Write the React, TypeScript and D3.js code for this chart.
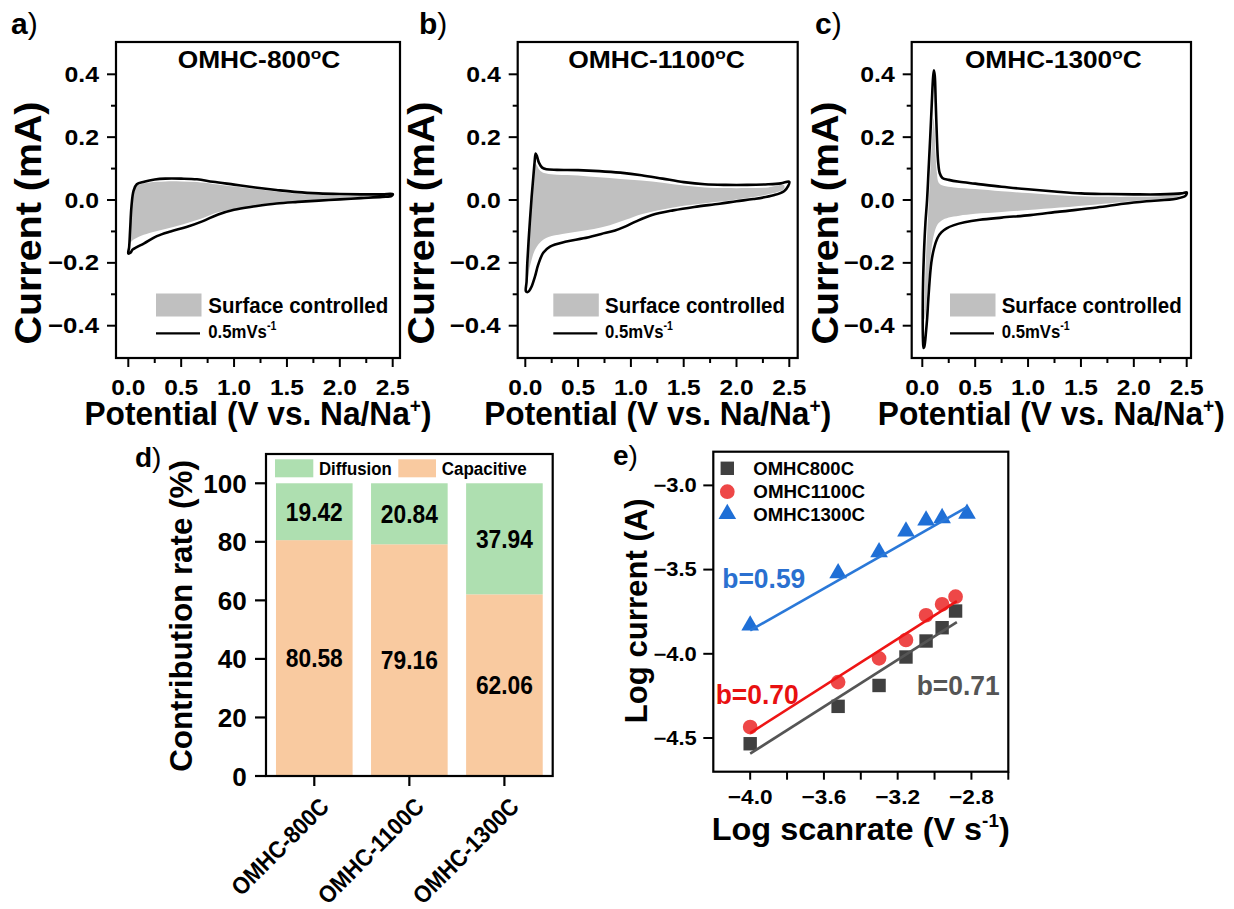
import React from "react";
import * as d3 from "d3";

type P = [number, number];

const FONT = "'Liberation Sans', Arial, Helvetica, sans-serif";

// ---------------- CV data: [potential (V), current (mA)] ----------------
const cv800Measured: P[] = [
  [0.0, -0.17], [0.008, -0.15], [0.018, -0.09], [0.03, -0.02], [0.05, 0.03], [0.08, 0.05], [0.15, 0.058],
  [0.25, 0.065], [0.35, 0.068], [0.5, 0.068], [0.65, 0.066], [0.8, 0.058], [1.0, 0.049], [1.2, 0.04],
  [1.4, 0.032], [1.6, 0.025], [1.8, 0.021], [2.0, 0.019], [2.2, 0.018], [2.4, 0.018], [2.5, 0.019],
  [2.49, 0.013], [2.4, 0.01], [2.2, 0.006], [2.0, 0.002], [1.8, -0.002], [1.6, -0.006], [1.4, -0.011],
  [1.2, -0.02], [1.0, -0.031], [0.85, -0.046], [0.7, -0.068], [0.55, -0.086], [0.4, -0.1], [0.27, -0.115],
  [0.15, -0.138], [0.08, -0.15], [0.04, -0.158], [0.02, -0.168],
];
const cv800Surface: P[] = [
  [0.015, -0.14], [0.028, -0.06], [0.045, 0.015], [0.07, 0.044], [0.12, 0.051], [0.2, 0.056], [0.35, 0.059],
  [0.5, 0.059], [0.65, 0.057], [0.8, 0.051], [1.0, 0.043], [1.2, 0.035], [1.4, 0.027], [1.6, 0.019],
  [1.8, 0.016], [2.0, 0.014], [2.2, 0.014], [2.4, 0.015], [2.48, 0.017],
  [2.45, 0.014], [2.3, 0.01], [2.1, 0.006], [1.9, 0.002], [1.7, -0.001], [1.5, -0.005], [1.3, -0.012],
  [1.15, -0.021], [1.0, -0.029], [0.84, -0.04], [0.7, -0.058], [0.52, -0.077], [0.35, -0.092], [0.2, -0.105],
  [0.1, -0.117], [0.05, -0.126], [0.025, -0.134],
];

const cv1100Measured: P[] = [
  [0.005, -0.29], [0.012, -0.26], [0.019, -0.2], [0.038, -0.095], [0.06, 0.01], [0.076, 0.074], [0.088, 0.12],
  [0.098, 0.148], [0.11, 0.14], [0.13, 0.118], [0.16, 0.103], [0.2, 0.098], [0.3, 0.096], [0.5, 0.095],
  [0.7, 0.092], [0.9, 0.087], [1.1, 0.079], [1.3, 0.068], [1.5, 0.057], [1.7, 0.05], [1.9, 0.048],
  [2.1, 0.048], [2.3, 0.05], [2.42, 0.053], [2.5, 0.058],
  [2.49, 0.045], [2.45, 0.028], [2.35, 0.015], [2.16, 0.003], [2.0, -0.004], [1.84, -0.012], [1.6, -0.022],
  [1.4, -0.033], [1.2, -0.048], [1.05, -0.068], [0.95, -0.084], [0.85, -0.097], [0.72, -0.108], [0.55, -0.122],
  [0.39, -0.132], [0.234, -0.148], [0.17, -0.168], [0.123, -0.205], [0.092, -0.243], [0.06, -0.275],
  [0.035, -0.29], [0.015, -0.293],
];
const cv1100Surface: P[] = [
  [0.02, -0.265], [0.03, -0.18], [0.045, -0.08], [0.06, 0.0], [0.078, 0.07], [0.095, 0.115], [0.11, 0.11],
  [0.13, 0.097], [0.16, 0.088], [0.2, 0.084], [0.3, 0.08], [0.5, 0.078], [0.7, 0.072], [0.9, 0.067],
  [1.1, 0.062], [1.3, 0.055], [1.5, 0.046], [1.7, 0.04], [1.9, 0.038], [2.1, 0.038], [2.3, 0.04], [2.45, 0.047],
  [2.45, 0.035], [2.3, 0.018], [2.1, 0.006], [1.9, -0.003], [1.7, -0.01], [1.5, -0.018], [1.3, -0.03],
  [1.1, -0.045], [0.95, -0.063], [0.8, -0.08], [0.65, -0.092], [0.5, -0.1], [0.35, -0.108], [0.22, -0.118],
  [0.14, -0.135], [0.09, -0.16], [0.06, -0.19], [0.035, -0.225], [0.025, -0.25],
];

const cv1300Measured: P[] = [
  [0.012, -0.471], [0.006, -0.44], [0.004, -0.35], [0.008, -0.25], [0.018, -0.15], [0.03, -0.07],
  [0.045, 0.0], [0.06, 0.1], [0.075, 0.2], [0.09, 0.31], [0.102, 0.39], [0.11, 0.413], [0.118, 0.395],
  [0.127, 0.31], [0.138, 0.2], [0.15, 0.12], [0.165, 0.085], [0.19, 0.07], [0.25, 0.064], [0.35, 0.058],
  [0.5, 0.052], [0.75, 0.042], [1.0, 0.034], [1.25, 0.027], [1.5, 0.021], [1.75, 0.019], [2.0, 0.018],
  [2.25, 0.018], [2.45, 0.021], [2.5, 0.024],
  [2.49, 0.014], [2.4, 0.004], [2.12, -0.004], [1.9, -0.012], [1.65, -0.024], [1.3, -0.037], [1.02, -0.048],
  [0.75, -0.056], [0.545, -0.063], [0.4, -0.071], [0.3, -0.08], [0.23, -0.09], [0.18, -0.103], [0.145, -0.12],
  [0.11, -0.155], [0.085, -0.2], [0.06, -0.3], [0.045, -0.38], [0.035, -0.42], [0.025, -0.455], [0.018, -0.468],
];
const cv1300Surface: P[] = [
  [0.02, -0.38], [0.025, -0.28], [0.035, -0.18], [0.05, -0.08], [0.065, 0.02], [0.08, 0.12], [0.095, 0.21],
  [0.105, 0.26], [0.115, 0.23], [0.125, 0.15], [0.138, 0.085], [0.155, 0.055], [0.2, 0.045], [0.3, 0.04],
  [0.5, 0.035], [0.75, 0.028], [1.0, 0.022], [1.25, 0.016], [1.5, 0.012], [1.75, 0.01], [2.0, 0.01],
  [2.25, 0.012], [2.45, 0.018],
  [2.4, 0.008], [2.12, 0.0], [1.9, -0.006], [1.65, -0.014], [1.3, -0.024], [1.0, -0.032], [0.75, -0.038],
  [0.5, -0.044], [0.35, -0.05], [0.25, -0.056], [0.18, -0.066], [0.14, -0.08], [0.11, -0.11], [0.085, -0.16],
  [0.06, -0.25], [0.04, -0.33], [0.028, -0.37],
];

const cvSampleNames = ["OMHC-800", "OMHC-1100", "OMHC-1300"];
const cvPanelLetters = ["a", "b", "c"];
const cvXTicks = [0, 0.5, 1, 1.5, 2, 2.5];
const cvXMinor = [0.25, 0.75, 1.25, 1.75, 2.25];
const cvYTicks = [-0.4, -0.2, 0, 0.2, 0.4];
const cvYMinor = [-0.3, -0.1, 0.1, 0.3];

// ---------------- (d) contribution ----------------
const contribSamples = ["OMHC-800C", "OMHC-1100C", "OMHC-1300C"];
const diffusionPct = [19.42, 20.84, 37.94];
const capacitivePct = [80.58, 79.16, 62.06];
const contribYTicks = [0, 20, 40, 60, 80, 100];

// ---------------- (e) log i vs log v ----------------
const logScan800 = [-4.0, -3.523, -3.301, -3.155, -3.046, -2.959, -2.886];
const logCur800 = [-4.534, -4.312, -4.188, -4.019, -3.924, -3.845, -3.746];
const logScan1100 = [-4.0, -3.523, -3.301, -3.155, -3.046, -2.959, -2.886];
const logCur1100 = [-4.435, -4.168, -4.027, -3.918, -3.771, -3.706, -3.661];
const logScan1300 = [-4.0, -3.523, -3.301, -3.155, -3.046, -2.959, -2.824];
const logCur1300 = [-3.831, -3.521, -3.396, -3.273, -3.208, -3.194, -3.168];
const fitScan800 = [-4.0, -2.879];
const fitCur800 = [-4.593, -3.812];
const fitScan1100 = [-4.0, -2.879];
const fitCur1100 = [-4.471, -3.687];
const fitScan1300 = [-4.0, -2.824];
const fitCur1300 = [-3.861, -3.129];
const eSeriesNames = ["OMHC800C", "OMHC1100C", "OMHC1300C"];
const bValues = ["b=0.71", "b=0.70", "b=0.59"];
const eXTicks = [-4.0, -3.6, -3.2, -2.8];
const eXMinor = [-3.8, -3.4, -3.0, -2.6];
const eYTicks = [-4.5, -4.0, -3.5, -3.0];

// ---------------- helpers ----------------
function T(props: {
  x: number; y: number; size: number; len?: number; anchor?: string; rotate?: number;
  weight?: string; fill?: string; children: React.ReactNode;
}) {
  const { x, y, size, len, anchor = "start", rotate = 0, weight = "bold", fill = "#000", children } = props;
  return (
    <text
      transform={`translate(${x},${y}) rotate(${rotate})`}
      fontSize={size}
      fontWeight={weight}
      textAnchor={anchor as any}
      fill={fill}
      textLength={len}
      lengthAdjust={len ? "spacingAndGlyphs" : undefined}
    >
      {children}
    </text>
  );
}

const cvLayout = [
  { left: 116, right: 400, x0: 128.3, x25: 392.7, letterX: 11, titleX: 259, titleLen: 162.7, yTitleX: 41, legX: 156, legTextX: 208.3 },
  { left: 517.7, right: 797.7, x0: 525.3, x25: 789.3, letterX: 419, titleX: 656.5, titleLen: 176.7, yTitleX: 434, legX: 553.3, legTextX: 605 },
  { left: 911.7, right: 1191, x0: 922.3, x25: 1186.7, letterX: 815, titleX: 1053.3, titleLen: 176.7, yTitleX: 838, legX: 950, legTextX: 1001.7 },
];

function CVPanel({ idx, measured, surface }: { idx: number; measured: P[]; surface: P[] }) {
  const L = cvLayout[idx];
  const top = 42, bottom = 358;
  const x = d3.scaleLinear().domain([0, 2.5]).range([L.x0, L.x25]);
  const y = d3.scaleLinear().domain([-0.4, 0.4]).range([325.7, 74.3]);
  const line = d3.line<P>().x((d) => x(d[0])).y((d) => y(d[1])).curve(d3.curveCatmullRomClosed.alpha(0.5));
  const fmt = d3.format(".1f");
  const xMid = (L.left + L.right) / 2;
  return (
    <g>
      <path d={line(surface) || ""} fill="#c0c0c0" stroke="none" />
      <path d={line(measured) || ""} fill="none" stroke="#000" strokeWidth={2.6} strokeLinejoin="round" />
      <rect x={L.left} y={top} width={L.right - L.left} height={bottom - top} fill="none" stroke="#000" strokeWidth={2.2} />
      {cvYTicks.map((v) => (
        <g key={"yt" + v}>
          <line x1={L.left - 9} x2={L.left} y1={y(v)} y2={y(v)} stroke="#000" strokeWidth={2} />
          <T x={L.left - 17} y={y(v) + 7.6} size={22} anchor="end" len={fmt(v).length > 3 ? 51 : 34.5}>{fmt(v)}</T>
        </g>
      ))}
      {cvYMinor.map((v) => (
        <line key={"ym" + v} x1={L.left - 5} x2={L.left} y1={y(v)} y2={y(v)} stroke="#000" strokeWidth={2} />
      ))}
      {cvXTicks.map((v) => (
        <g key={"xt" + v}>
          <line x1={x(v)} x2={x(v)} y1={bottom} y2={bottom + 9} stroke="#000" strokeWidth={2} />
          <T x={x(v)} y={395} size={22} anchor="middle" len={34}>{fmt(v)}</T>
        </g>
      ))}
      {cvXMinor.map((v) => (
        <line key={"xm" + v} x1={x(v)} x2={x(v)} y1={bottom} y2={bottom + 5} stroke="#000" strokeWidth={2} />
      ))}
      {/* title */}
      <T x={L.titleX} y={67.7} size={23} anchor="middle" len={L.titleLen}>
        {cvSampleNames[idx]}
        <tspan fontSize={15} dy={-9}>o</tspan>
        <tspan fontSize={23} dy={9}>C</tspan>
      </T>
      {/* legend */}
      <rect x={L.legX} y={293.5} width={45.5} height={23} fill="#c0c0c0" />
      <T x={L.legTextX} y={312.5} size={21.5} len={180}>Surface controlled</T>
      <line x1={L.legX} x2={L.legX + 44} y1={333.3} y2={333.3} stroke="#000" strokeWidth={2.2} />
      <T x={L.legTextX} y={338} size={19} len={68}>
        0.5mVs<tspan fontSize={12} dy={-8}>-1</tspan>
      </T>
      {/* axis titles */}
      <T x={xMid} y={425} size={33} anchor="middle" len={347}>
        Potential (V vs. Na/Na<tspan fontSize={20} dy={-12}>+</tspan><tspan fontSize={33} dy={12}>)</tspan>
      </T>
      <T x={L.yTitleX} y={223} size={36} anchor="middle" rotate={-90} len={243}>Current (mA)</T>
      {/* panel letter */}
      <text x={L.letterX} y={34} fontSize={30}>
        <tspan fontWeight="bold">{cvPanelLetters[idx]}</tspan>
        <tspan fontWeight="normal">)</tspan>
      </text>
    </g>
  );
}

function ContribPanel() {
  const left = 266, right = 552.7, top = 454, bottom = 776;
  const y = d3.scaleLinear().domain([0, 110]).range([bottom, top]);
  const x = d3.scaleBand<string>().domain(contribSamples).range([left, right]).paddingInner(0.194).paddingOuter(0.105);
  const green = "#aedfb0";
  const peach = "#f9caa0";
  return (
    <g>
      {contribSamples.map((s, i) => {
        const bx = x(s) as number;
        const bw = x.bandwidth();
        const cap = capacitivePct[i];
        const dif = diffusionPct[i];
        return (
          <g key={s}>
            <rect x={bx} y={y(cap)} width={bw} height={y(0) - y(cap)} fill={peach} />
            <rect x={bx} y={y(cap + dif)} width={bw} height={y(cap) - y(cap + dif)} fill={green} />
            <T x={bx + bw / 2} y={y(cap / 2) + 9} size={25} anchor="middle" len={57}>{cap.toFixed(2)}</T>
            <T x={bx + bw / 2} y={y(cap + dif / 2) + 9} size={25} anchor="middle" len={57}>{dif.toFixed(2)}</T>
            <line x1={bx + bw / 2} x2={bx + bw / 2} y1={bottom} y2={bottom + 10} stroke="#000" strokeWidth={2.2} />
            <T x={bx + bw / 2 + 16} y={808} size={24} anchor="end" rotate={-45} len={s.length > 9 ? 138 : 126}>{s}</T>
          </g>
        );
      })}
      <rect x={left} y={top} width={right - left} height={bottom - top} fill="none" stroke="#000" strokeWidth={2.2} />
      {contribYTicks.map((v) => (
        <g key={v}>
          <line x1={left - 11} x2={left} y1={y(v)} y2={y(v)} stroke="#000" strokeWidth={2.2} />
          <T x={246.7} y={y(v) + 9.5} size={26.5} anchor="end" len={String(v).length * 14.5}>{String(v)}</T>
        </g>
      ))}
      {/* legend */}
      <rect x={275} y={459.3} width={38.3} height={18} fill={green} />
      <T x={319} y={474.5} size={18} len={72.7}>Diffusion</T>
      <rect x={398.3} y={459.3} width={37.7} height={18} fill={peach} />
      <T x={441.7} y={474.5} size={18} len={85}>Capacitive</T>
      <T x={191.7} y={616} size={32} anchor="middle" rotate={-90} len={311.7}>Contribution rate (%)</T>
      <text x={135} y={467} fontSize={28}>
        <tspan fontWeight="bold">d</tspan>
        <tspan fontWeight="normal">)</tspan>
      </text>
    </g>
  );
}

function LogPanel() {
  const left = 713.3, right = 1008.3, top = 451.7, bottom = 771.7;
  const x = d3.scaleLinear().domain([-4.2, -2.6]).range([left, right]);
  const y = d3.scaleLinear().domain([-4.7, -2.8]).range([bottom, top]);
  const fmt = d3.format(".1f");
  const series = [
    { xs: logScan800, ys: logCur800, fx: fitScan800, fy: fitCur800, sym: d3.symbolSquare, size: 180, color: "#404040", line: "#555555", b: bValues[0], bx: 916.7, by: 695, bFill: "#555555" },
    { xs: logScan1100, ys: logCur1100, fx: fitScan1100, fy: fitCur1100, sym: d3.symbolCircle, size: 170, color: "#ee4747", line: "#ee1515", b: bValues[1], bx: 715.7, by: 704, bFill: "#e81010" },
    { xs: logScan1300, ys: logCur1300, fx: fitScan1300, fy: fitCur1300, sym: d3.symbolTriangle, size: 135, color: "#1f6fd6", line: "#2a78d8", b: bValues[2], bx: 722.3, by: 587.5, bFill: "#2a70d0" },
  ];
  const legY = [468.3, 491.7, 514];
  const legBase = [474.5, 498, 521];
  const legLen = [100.7, 111.7, 111.7];
  return (
    <g>
      {series.map((s, i) => (
        <g key={i}>
          {s.xs.map((xv, j) => (
            <path key={j} d={d3.symbol().type(s.sym).size(s.size)() || ""} transform={`translate(${x(xv)},${y(s.ys[j])})`} fill={s.color} />
          ))}
          <line x1={x(s.fx[0])} x2={x(s.fx[1])} y1={y(s.fy[0])} y2={y(s.fy[1])} stroke={s.line} strokeWidth={2.6} />
          <T x={s.bx} y={s.by} size={27} len={83} fill={s.bFill}>{s.b}</T>
          <path d={d3.symbol().type(s.sym).size(s.size)() || ""} transform={`translate(727.3,${legY[i]})`} fill={s.color} />
          <T x={753.3} y={legBase[i]} size={19} len={legLen[i]}>{eSeriesNames[i]}</T>
        </g>
      ))}
      <rect x={left} y={top} width={right - left} height={bottom - top} fill="none" stroke="#000" strokeWidth={2.2} />
      {eYTicks.map((v) => (
        <g key={v}>
          <line x1={left - 10} x2={left} y1={y(v)} y2={y(v)} stroke="#000" strokeWidth={2} />
          <T x={696.7} y={y(v) + 6.8} size={19.5} anchor="end" len={43.3}>{fmt(v)}</T>
        </g>
      ))}
      {eXTicks.map((v) => (
        <g key={v}>
          <line x1={x(v)} x2={x(v)} y1={bottom} y2={bottom + 8} stroke="#000" strokeWidth={2} />
          <T x={x(v)} y={804} size={20} anchor="middle" len={44.7}>{fmt(v)}</T>
        </g>
      ))}
      {eXMinor.map((v) => (
        <line key={v} x1={x(v)} x2={x(v)} y1={bottom} y2={bottom + 8} stroke="#000" strokeWidth={2} />
      ))}
      <T x={711.7} y={840} size={31} len={298}>
        Log scanrate (V s<tspan fontSize={18} dy={-13}>-1</tspan><tspan fontSize={31} dy={13}>)</tspan>
      </T>
      <T x={647} y={610.8} size={31} anchor="middle" rotate={-90} len={225}>Log current (A)</T>
      <text x={613} y={465} fontSize={28}>
        <tspan fontWeight="bold">e</tspan>
        <tspan fontWeight="normal">)</tspan>
      </text>
    </g>
  );
}

export default function App() {
  const W = 1234, H = 909;
  return (
    <svg width={W} height={H} style={{ position: "absolute", left: 0, top: 0, background: "#fff" }} fontFamily={FONT}>
      <rect width={W} height={H} fill="#fff" />
      <CVPanel idx={0} measured={cv800Measured} surface={cv800Surface} />
      <CVPanel idx={1} measured={cv1100Measured} surface={cv1100Surface} />
      <CVPanel idx={2} measured={cv1300Measured} surface={cv1300Surface} />
      <ContribPanel />
      <LogPanel />
    </svg>
  );
}
